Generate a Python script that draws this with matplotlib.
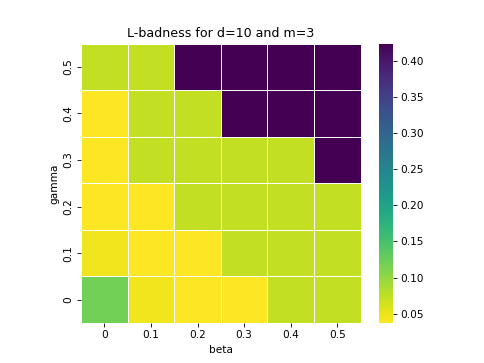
import numpy as np
import matplotlib
matplotlib.use("Agg")
import matplotlib.pyplot as plt
import seaborn as sns

beta = [0, 0.1, 0.2, 0.3, 0.4, 0.5]
gamma = [0, 0.1, 0.2, 0.3, 0.4, 0.5]

# rows: gamma 0 .. 0.5, columns: beta 0 .. 0.5
badness = np.array([
    [0.120, 0.045, 0.037, 0.037, 0.072, 0.072],
    [0.046, 0.037, 0.037, 0.072, 0.072, 0.072],
    [0.038, 0.038, 0.072, 0.072, 0.072, 0.072],
    [0.038, 0.072, 0.072, 0.072, 0.072, 0.424],
    [0.038, 0.072, 0.072, 0.424, 0.424, 0.424],
    [0.072, 0.072, 0.424, 0.424, 0.424, 0.424],
])

fig = plt.figure(figsize=(6.4, 4.8), dpi=484 / 6.4)
ax = sns.heatmap(badness, cmap="viridis_r", linewidths=0.5, linecolor="white",
                 xticklabels=beta, yticklabels=gamma, square=True)
ax.invert_yaxis()
plt.setp(ax.get_yticklabels(), rotation=90, va="center")
ax.set_xlabel("beta")
ax.set_ylabel("gamma")
ax.set_title("L-badness for d=10 and m=3")
plt.savefig("out.png")
